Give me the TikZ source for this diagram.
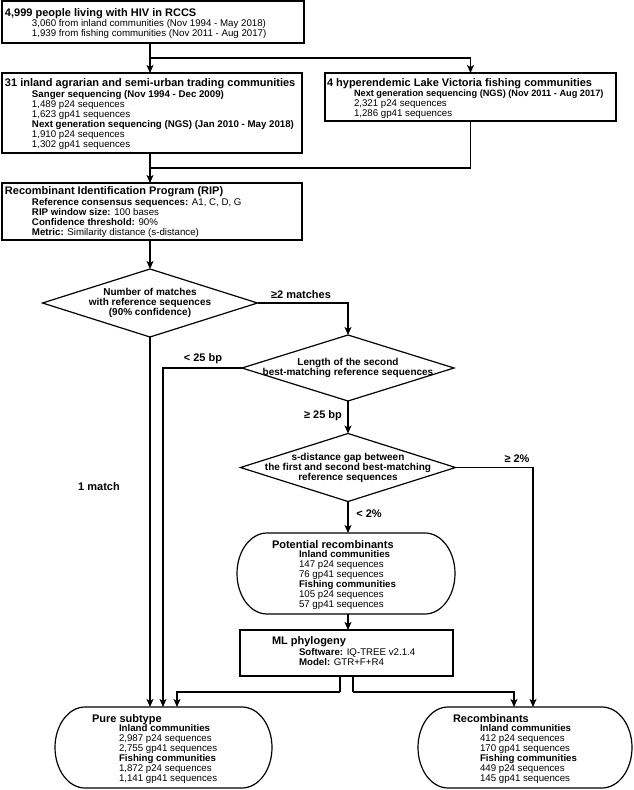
\documentclass[tikz,border=0pt]{standalone}
\usepackage{fontspec}
\setmainfont{Liberation Sans}
\usetikzlibrary{arrows.meta,shapes.geometric}
\newcommand\hdline[1]{\hbox{\fontsize{11}{12}\selectfont\bfseries #1}}
\newcommand\subline[1]{\hbox{\hspace*{27pt}\fontsize{9.7}{10}\selectfont\bfseries #1}}
\newcommand\fsubline[1]{\hbox{\hspace*{27pt}\fontsize{9.2}{10}\selectfont\bfseries #1}}
\newcommand\bodline[1]{\hbox{\hspace*{27pt}\fontsize{9.7}{10}\selectfont #1}}
\newcommand\mixline[2]{\hbox{\hspace*{27pt}\fontsize{9.7}{10}\selectfont\textbf{#1} #2}}
\newcommand\stadium[1]{\draw[line] ([xshift=30pt]#1.north west) -- ([xshift=-30pt]#1.north east) arc[start angle=90,end angle=-90,x radius=30pt,y radius=40.5pt] -- ([xshift=30pt]#1.south west) arc[start angle=270,end angle=90,x radius=30pt,y radius=40.5pt] -- cycle;}
\tikzset{
  line/.style={line width=1.2pt, line join=miter},
  arr/.style={line, -{Stealth[length=8pt,width=7pt,inset=2pt]}},
  box/.style={draw, line width=1.2pt, rectangle, inner sep=0pt, outer sep=0pt, anchor=north west},
  stad/.style={rectangle, inner sep=0pt, outer sep=0pt, anchor=north west, minimum height=81pt},
  dia/.style={diamond, draw, line width=1.2pt, inner sep=0pt, outer sep=0pt},
  txt/.style={anchor=base west, inner sep=0pt, outer sep=0pt},
  dtext/.style={align=center, font=\fontsize{10}{10}\selectfont\bfseries, inner sep=0pt},
  lbl/.style={font=\fontsize{11}{12}\selectfont\bfseries, inner sep=0pt}
}
\begin{document}
\begin{tikzpicture}[x=1pt,y=-1pt]
\useasboundingbox (0,0) rectangle (633,790);
% boxes
\node[box, minimum width=302pt, minimum height=42pt] (top) at (2,1) {};
\node[box, minimum width=300pt, minimum height=80pt] (inland) at (2,73) {};
\node[box, minimum width=291pt, minimum height=48pt] (fish) at (325,73) {};
\node[box, minimum width=300pt, minimum height=57pt] (rip) at (2,183) {};
\node[box, minimum width=213pt, minimum height=46pt] (ml) at (240,630) {};
\node[stad, minimum width=218pt] (pot) at (237,533) {};
\node[stad, minimum width=217pt] (pure) at (55,707) {};
\node[stad, minimum width=214pt] (rec) at (418,707) {};
\stadium{pot}
\stadium{pure}
\stadium{rec}
% diamonds
\node[dia, minimum width=215pt, minimum height=68pt] (d1) at (150,303) {};
\node[dia, minimum width=212pt, minimum height=66pt] (d2) at (348,368) {};
\node[dia, minimum width=215pt, minimum height=68pt] (d3) at (348,467.5) {};
% texts
\node[txt] (toptx) at (5,16) {\vtop{\baselineskip=10pt\lineskiplimit=-20pt
  \hdline{4,999 people living with HIV in RCCS}\vskip0.5pt
  \bodline{3,060 from inland communities (Nov 1994 - May 2018)}
  \bodline{1,939 from fishing communities (Nov 2011 - Aug 2017)}}};
\node[txt] (inlandtx) at (5,86) {\vtop{\baselineskip=10pt\lineskiplimit=-20pt
  \hdline{31 inland agrarian and semi-urban trading communities}\vskip1pt
  \subline{Sanger sequencing (Nov 1994 - Dec 2009)}
  \bodline{1,489 p24 sequences}
  \bodline{1,623 gp41 sequences}
  \subline{Next generation sequencing (NGS) (Jan 2010 - May 2018)}
  \bodline{1,910 p24 sequences}
  \bodline{1,302 gp41 sequences}}};
\node[txt] (fishtx) at (327,86.5) {\vtop{\baselineskip=10pt\lineskiplimit=-20pt
  \hdline{4 hyperendemic Lake Victoria fishing communities}
  \fsubline{Next generation sequencing (NGS) (Nov 2011 - Aug 2017)}
  \bodline{2,321 p24 sequences}
  \bodline{1,286 gp41 sequences}}};
\node[txt] (riptx) at (5,194) {\vtop{\baselineskip=10pt\lineskiplimit=-20pt
  \hdline{Recombinant Identification Program (RIP)}\vskip1pt
  \mixline{Reference consensus sequences:}{A1, C, D, G}
  \mixline{RIP window size:}{100 bases}
  \mixline{Confidence threshold:}{90\%}
  \mixline{Metric:}{Similarity distance (s-distance)}}};
\node[txt] (pottx) at (272,548) {\vtop{\baselineskip=10pt\lineskiplimit=-20pt
  \hdline{Potential recombinants}\vskip-0.5pt
  \subline{Inland communities}
  \bodline{147 p24 sequences}
  \bodline{76 gp41 sequences}
  \subline{Fishing communities}
  \bodline{105 p24 sequences}
  \bodline{57 gp41 sequences}}};
\node[txt] (mltx) at (272,644) {\vtop{\baselineskip=10pt\lineskiplimit=-20pt
  \hdline{ML phylogeny}\vskip1pt
  \mixline{Software:}{IQ-TREE v2.1.4}
  \mixline{Model:}{GTR+F+R4}}};
\node[txt] (puretx) at (92,722) {\vtop{\baselineskip=10pt\lineskiplimit=-20pt
  \hdline{Pure subtype}\vskip-0.5pt
  \subline{Inland communities}
  \bodline{2,987 p24 sequences}
  \bodline{2,755 gp41 sequences}
  \subline{Fishing communities}
  \bodline{1,872 p24 sequences}
  \bodline{1,141 gp41 sequences}}};
\node[txt] (rectx) at (453,722) {\vtop{\baselineskip=10pt\lineskiplimit=-20pt
  \hdline{Recombinants}\vskip-0.5pt
  \subline{Inland communities}
  \bodline{412 p24 sequences}
  \bodline{170 gp41 sequences}
  \subline{Fishing communities}
  \bodline{449 p24 sequences}
  \bodline{145 gp41 sequences}}};
\node[dtext] (d1tx) at (d1) {Number of matches\\with reference sequences\\(90\% confidence)};
\node[dtext] (d2tx) at (d2) {Length of the second\\best-matching reference sequences};
\node[dtext] (d3tx) at (d3) {s-distance gap between\\the first and second best-matching\\reference sequences};
% labels
\node[lbl] (l1) at (301,295) {≥2 matches};
\node[lbl] (l2) at (203,359) {< 25 bp};
\node[lbl] (l3) at (323,416) {≥ 25 bp};
\node[lbl] (l4) at (517,459) {≥ 2\%};
\node[lbl] (l5) at (369,514) {< 2\%};
\node[lbl] (l6) at (99,487) {1 match};
% connectors
\coordinate (j1) at (150,58);
\coordinate (j2) at (150,168);
\coordinate (h1) at (340,692);
\coordinate (h2) at (353,692);
\draw[line] (j1 |- top.south) -- (j1);
\draw[arr] (j1) -| (fish.north);
\draw[arr] (j1) -- (j1 |- inland.north);
\draw[arr] (j1 |- inland.south) -- (j1 |- rip.north);
\draw[line] (fish.south) |- (j2);
\draw[arr] (j1 |- rip.south) -- (d1.north);
\draw[arr] (d1.east) -| (d2.north);
\draw[arr] (d1.south) -- (d1.south |- pure.north);
\draw[arr] (d2.west) -| ([xshift=108pt]pure.north west);
\draw[arr] (d2.south) -- (d3.north);
\draw[arr] (d3.east) -| ([xshift=115pt]rec.north west);
\draw[arr] (d3.south) -- (d3.south |- pot.north);
\draw[arr] (d3.south |- pot.south) -- (d3.south |- ml.north);
\draw[line] (h1 |- ml.south) -- (h1);
\draw[arr] (h1) -| ([xshift=122pt]pure.north west);
\draw[line] (h2 |- ml.south) -- (h2);
\draw[arr] (h2) -| ([xshift=96pt]rec.north west);
\end{tikzpicture}
\end{document}
